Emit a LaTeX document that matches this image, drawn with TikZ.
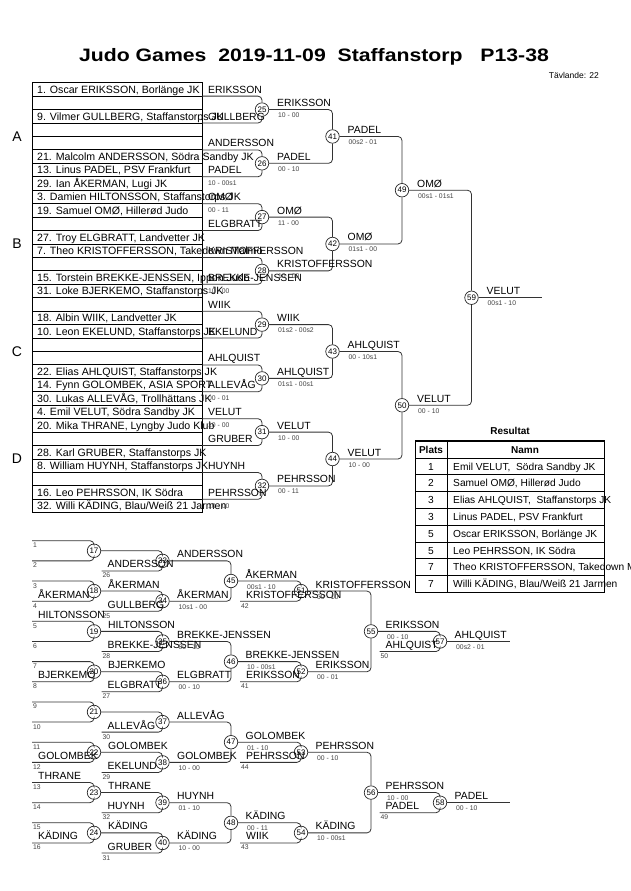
\documentclass[tikz,border=0pt]{standalone}
\usepackage{fontspec}
\setmainfont{Liberation Sans}
\usepackage{graphicx}
\usetikzlibrary{calc}

\begin{document}
\begin{tikzpicture}[x=1pt,y=-1pt,
  br/.style={line width=0.8pt, draw=black!80, rounded corners=4pt},
  mc/.style={circle, draw=black!85, line width=0.7pt, fill=white, inner sep=0pt, minimum size=13.5pt, font=\fontsize{8}{8}\selectfont},
  rt/.style={anchor=base west, inner sep=0pt, font=\fontsize{10.6}{12}\selectfont},
  nm/.style={anchor=base west, inner sep=0pt, font=\fontsize{10.4}{12}\selectfont},
  sc/.style={anchor=base west, inner sep=0pt, font=\fontsize{6.8}{8}\selectfont, text=black!75},
  tb/.style={inner sep=0pt, font=\fontsize{10.2}{12}\selectfont}]
\useasboundingbox (0,0) rectangle (630,891);

% title
\node[anchor=base, font=\bfseries\fontsize{18}{21}\selectfont] (title) at (314,62) {\scalebox{1.18}[1]{Judo Games\ \ 2019-11-09\ \ Staffanstorp\ \ \ P13-38}};
\node[anchor=base east, inner sep=0pt, font=\fontsize{8.5}{10}\selectfont] (antal) at (599,78) {Tävlande: 22};

% draw boxes
\foreach \i in {1,...,32}
  \draw[line width=0.9pt] (32,{82.7+13.44*(\i-1)}) rectangle (202,{82.7+13.44*\i});
\foreach \i/\txt in {1/{1. Oscar ERIKSSON, Borlänge JK}, 3/{9. Vilmer GULLBERG, Staffanstorps JK},
    6/{21. Malcolm ANDERSSON, Södra Sandby JK}, 7/{13. Linus PADEL, PSV Frankfurt}, 8/{29. Ian ÅKERMAN, Lugi JK},
    9/{3. Damien HILTONSSON, Staffanstorps JK}, 10/{19. Samuel OMØ, Hillerød Judo}, 12/{27. Troy ELGBRATT, Landvetter JK},
    13/{7. Theo KRISTOFFERSSON, Takedown Malmö}, 15/{15. Torstein BREKKE-JENSSEN, Ippon Judo}, 16/{31. Loke BJERKEMO, Staffanstorps JK},
    18/{18. Albin WIIK, Landvetter JK}, 19/{10. Leon EKELUND, Staffanstorps JK}, 22/{22. Elias AHLQUIST, Staffanstorps JK},
    23/{14. Fynn GOLOMBEK, ASIA SPORT}, 24/{30. Lukas ALLEVÅG, Trollhättans JK}, 25/{4. Emil VELUT, Södra Sandby JK},
    26/{20. Mika THRANE, Lyngby Judo Klub}, 28/{28. Karl GRUBER, Staffanstorps JK}, 29/{8. William HUYNH, Staffanstorps JK},
    31/{16. Leo PEHRSSON, IK Södra}, 32/{32. Willi KÄDING, Blau/Weiß 21 Jarmen}}
  \node[rt] (t\i) at (37,{82.7+13.44*(\i-0.5)+3.8}) {\txt};

\node[font=\fontsize{14}{14}\selectfont] (grA) at (17,136.5) {A};
\node[font=\fontsize{14}{14}\selectfont] (grB) at (17,244) {B};
\node[font=\fontsize{14}{14}\selectfont] (grC) at (17,351.5) {C};
\node[font=\fontsize{14}{14}\selectfont] (grD) at (17,459) {D};

% main bracket
\foreach \k in {1,...,16}
  \coordinate (a\k) at (202,{82.7+13.44*(2*\k-1)});
\node[mc] (m25) at (262,109.58) {25};
\node[mc] (m26) at (262,163.34) {26};
\node[mc] (m27) at (262,217.10) {27};
\node[mc] (m28) at (262,270.86) {28};
\node[mc] (m29) at (262,324.62) {29};
\node[mc] (m30) at (262,378.38) {30};
\node[mc] (m31) at (262,432.14) {31};
\node[mc] (m32) at (262,485.90) {32};
\node[mc] (m41) at (332.5,136.46) {41};
\node[mc] (m42) at (332.5,243.98) {42};
\node[mc] (m43) at (332.5,351.50) {43};
\node[mc] (m44) at (332.5,459.02) {44};
\node[mc] (m49) at (402,190.22) {49};
\node[mc] (m50) at (402,405.26) {50};
\node[mc] (m59) at (471.5,297.74) {59};
\coordinate (fin) at (542,297.74);

\foreach \k/\m in {1/25,2/25,3/26,4/26,5/27,6/27,7/28,8/28,9/29,10/29,11/30,12/30,13/31,14/31,15/32,16/32}
  \draw[br] (a\k) -| (m\m);
\foreach \a/\m in {25/41,26/41,27/42,28/42,29/43,30/43,31/44,32/44,41/49,42/49,43/50,44/50,49/59,50/59}
  \draw[br] (m\a) -| (m\m);
\draw[br] (m59) -- (fin);

\node[nm] (w1) at ($(a1)+(6,-3)$) {ERIKSSON};
\node[nm] (w2) at ($(a2)+(6,-3)$) {GULLBERG};
\node[nm] (w3) at ($(a3)+(6,-3)$) {ANDERSSON};
\node[nm] (w4) at ($(a4)+(6,-3)$) {PADEL};
\node[sc] (s4) at ($(a4)+(6,9)$) {10 - 00s1};
\node[nm] (w5) at ($(a5)+(6,-3)$) {OMØ};
\node[sc] (s5) at ($(a5)+(6,9)$) {00 - 11};
\node[nm] (w6) at ($(a6)+(6,-3)$) {ELGBRATT};
\node[nm] (w7) at ($(a7)+(6,-3)$) {KRISTOFFERSSON};
\node[nm] (w8) at ($(a8)+(6,-3)$) {BREKKE-JENSSEN};
\node[sc] (s8) at ($(a8)+(6,9)$) {10 - 00};
\node[nm] (w9) at ($(a9)+(6,-3)$) {WIIK};
\node[nm] (w10) at ($(a10)+(6,-3)$) {EKELUND};
\node[nm] (w11) at ($(a11)+(6,-3)$) {AHLQUIST};
\node[nm] (w12) at ($(a12)+(6,-3)$) {ALLEVÅG};
\node[sc] (s12) at ($(a12)+(6,9)$) {00 - 01};
\node[nm] (w13) at ($(a13)+(6,-3)$) {VELUT};
\node[sc] (s13) at ($(a13)+(6,9)$) {10 - 00};
\node[nm] (w14) at ($(a14)+(6,-3)$) {GRUBER};
\node[nm] (w15) at ($(a15)+(6,-3)$) {HUYNH};
\node[nm] (w16) at ($(a16)+(6,-3)$) {PEHRSSON};
\node[sc] (s16) at ($(a16)+(6,9)$) {10 - 00};

\foreach \m/\w/\s in {25/ERIKSSON/10 - 00, 26/PADEL/00 - 10, 27/OMØ/11 - 00, 28/KRISTOFFERSSON/10 - 00,
    29/WIIK/01s2 - 00s2, 30/AHLQUIST/01s1 - 00s1, 31/VELUT/10 - 00, 32/PEHRSSON/00 - 11,
    41/PADEL/00s2 - 01, 42/OMØ/01s1 - 00, 43/AHLQUIST/00 - 10s1, 44/VELUT/10 - 00,
    49/OMØ/00s1 - 01s1, 50/VELUT/00 - 10, 59/VELUT/00s1 - 10}
{
  \node[nm] (w\m) at ($(m\m)+(15,-3)$) {\w};
  \node[sc] (s\m) at ($(m\m)+(16,8)$) {\s};
}

% results
\node[anchor=base, inner sep=0pt, font=\bfseries\fontsize{10}{12}\selectfont] (res) at (510,434) {Resultat};
\draw[line width=1.5pt] (415.5,441) rectangle (604.5,592.4);
\draw[line width=0.7pt] (447,441) -- (447,592.4);
\foreach \i in {0,...,7}
  \draw[line width=0.7pt] (415.5,{458+16.8*\i}) -- (604.5,{458+16.8*\i});
\node[tb, anchor=base, font=\bfseries\fontsize{10}{12}\selectfont] (hpl) at (431,453.2) {Plats};
\node[tb, anchor=base, font=\bfseries\fontsize{10}{12}\selectfont] (hnm) at (525,453.2) {Namn};
\foreach \i/\p/\n in {1/1/{Emil VELUT,\ \ Södra Sandby JK}, 2/2/{Samuel OMØ, Hillerød Judo},
    3/3/{Elias AHLQUIST,\ \ Staffanstorps JK}, 4/3/{Linus PADEL, PSV Frankfurt},
    5/5/{Oscar ERIKSSON, Borlänge JK}, 6/5/{Leo PEHRSSON, IK Södra},
    7/7/{Theo KRISTOFFERSSON, Takedown Malmö}, 8/7/{Willi KÄDING, Blau/Weiß 21 Jarmen}}
{
  \node[tb, anchor=base] (pl\i) at (431,{458+16.8*(\i-0.5)+3.7}) {\p};
  \node[tb, anchor=base west] (na\i) at (453,{458+16.8*(\i-0.5)+3.7}) {\n};
}

% repechage
\foreach \k in {1,...,16}
{
  \coordinate (r\k) at (32,{540.7+20.15*(\k-1)});
  \node[sc] (n\k) at ($(r\k)+(1,7)$) {\k};
}
\node[mc] (m17) at (94,550.78) {17};
\node[mc] (m18) at (94,591.08) {18};
\node[mc] (m19) at (94,631.38) {19};
\node[mc] (m20) at (94,671.68) {20};
\node[mc] (m21) at (94,711.98) {21};
\node[mc] (m22) at (94,752.28) {22};
\node[mc] (m23) at (94,792.58) {23};
\node[mc] (m24) at (94,832.88) {24};
\node[mc] (m33) at (162.5,560.85) {33};
\node[mc] (m34) at (162.5,601.15) {34};
\node[mc] (m35) at (162.5,641.45) {35};
\node[mc] (m36) at (162.5,681.75) {36};
\node[mc] (m37) at (162.5,722.05) {37};
\node[mc] (m38) at (162.5,762.35) {38};
\node[mc] (m39) at (162.5,802.65) {39};
\node[mc] (m40) at (162.5,842.95) {40};
\node[mc] (m45) at (231,581.00) {45};
\node[mc] (m46) at (231,661.60) {46};
\node[mc] (m47) at (231,742.20) {47};
\node[mc] (m48) at (231,822.80) {48};
\node[mc] (m51) at (301,591.08) {51};
\node[mc] (m52) at (301,671.68) {52};
\node[mc] (m53) at (301,752.28) {53};
\node[mc] (m54) at (301,832.88) {54};
\node[mc] (m55) at (371,631.38) {55};
\node[mc] (m56) at (371,792.58) {56};
\node[mc] (m57) at (440,641.45) {57};
\node[mc] (m58) at (440,802.65) {58};
\coordinate (e57) at (510,641.45);
\coordinate (e58) at (510,802.65);

\coordinate (p33) at (101.5,570.93);
\coordinate (p34) at (101.5,611.23);
\coordinate (p35) at (101.5,651.53);
\coordinate (p36) at (101.5,691.83);
\coordinate (p37) at (101.5,732.13);
\coordinate (p38) at (101.5,772.43);
\coordinate (p39) at (101.5,812.73);
\coordinate (p40) at (101.5,853.03);
\coordinate (p51) at (240,601.15);
\coordinate (p52) at (240,681.75);
\coordinate (p53) at (240,762.35);
\coordinate (p54) at (240,842.95);
\coordinate (p57) at (379.5,651.53);
\coordinate (p58) at (379.5,812.73);

\foreach \k/\m in {1/17,2/17,3/18,4/18,5/19,6/19,7/20,8/20,9/21,10/21,11/22,12/22,13/23,14/23,15/24,16/24}
  \draw[br] (r\k) -| (m\m);
\foreach \a/\m in {17/33,18/34,19/35,20/36,21/37,22/38,23/39,24/40,33/45,34/45,35/46,36/46,37/47,38/47,39/48,40/48,
    45/51,46/52,47/53,48/54,51/55,52/55,53/56,54/56,55/57,56/58}
  \draw[br] (m\a) -| (m\m);
\foreach \m in {33,34,35,36,37,38,39,40,51,52,53,54,57,58}
  \draw[br] (p\m) -| (m\m);
\draw[br] (m57) -- (e57);
\draw[br] (m58) -- (e58);

% losers coming in
\node[nm] (q4) at ($(r4)+(6,-3)$) {ÅKERMAN};
\node[nm] (q5) at ($(r5)+(6,-3)$) {HILTONSSON};
\node[nm] (q8) at ($(r8)+(6,-3)$) {BJERKEMO};
\node[nm] (q12) at ($(r12)+(6,-3)$) {GOLOMBEK};
\node[nm] (q13) at ($(r13)+(6,-3)$) {THRANE};
\node[nm] (q16) at ($(r16)+(6,-3)$) {KÄDING};
\foreach \m/\w/\f in {33/ANDERSSON/26, 34/GULLBERG/25, 35/BREKKE-JENSSEN/28, 36/ELGBRATT/27,
    37/ALLEVÅG/30, 38/EKELUND/29, 39/HUYNH/32, 40/GRUBER/31,
    51/KRISTOFFERSSON/42, 52/ERIKSSON/41, 53/PEHRSSON/44, 54/WIIK/43, 57/AHLQUIST/50, 58/PADEL/49}
{
  \node[nm] (q\m) at ($(p\m)+(6,-3)$) {\w};
  \node[sc] (f\m) at ($(p\m)+(1,7)$) {\f};
}

% winners
\node[nm] (w18) at ($(m18)+(14,-3)$) {ÅKERMAN};
\node[nm] (w19) at ($(m19)+(14,-3)$) {HILTONSSON};
\node[nm] (w20) at ($(m20)+(14,-3)$) {BJERKEMO};
\node[nm] (w22) at ($(m22)+(14,-3)$) {GOLOMBEK};
\node[nm] (w23) at ($(m23)+(14,-3)$) {THRANE};
\node[nm] (w24) at ($(m24)+(14,-3)$) {KÄDING};
\node[nm] (w33) at ($(m33)+(14.5,-3)$) {ANDERSSON};
\node[nm] (w37) at ($(m37)+(14.5,-3)$) {ALLEVÅG};
\foreach \m/\w/\s in {34/ÅKERMAN/10s1 - 00, 35/BREKKE-JENSSEN/00 - 10, 36/ELGBRATT/00 - 10,
    38/GOLOMBEK/10 - 00, 39/HUYNH/01 - 10, 40/KÄDING/10 - 00,
    45/ÅKERMAN/00s1 - 10, 46/BREKKE-JENSSEN/10 - 00s1, 47/GOLOMBEK/01 - 10, 48/KÄDING/00 - 11,
    51/KRISTOFFERSSON/00 - 10, 52/ERIKSSON/00 - 01, 53/PEHRSSON/00 - 10, 54/KÄDING/10 - 00s1,
    55/ERIKSSON/00 - 10, 56/PEHRSSON/10 - 00, 57/AHLQUIST/00s2 - 01, 58/PADEL/00 - 10}
{
  \node[nm] (w\m) at ($(m\m)+(14.5,-3)$) {\w};
  \node[sc] (s\m) at ($(m\m)+(16,8)$) {\s};
}
\end{tikzpicture}
\end{document}
